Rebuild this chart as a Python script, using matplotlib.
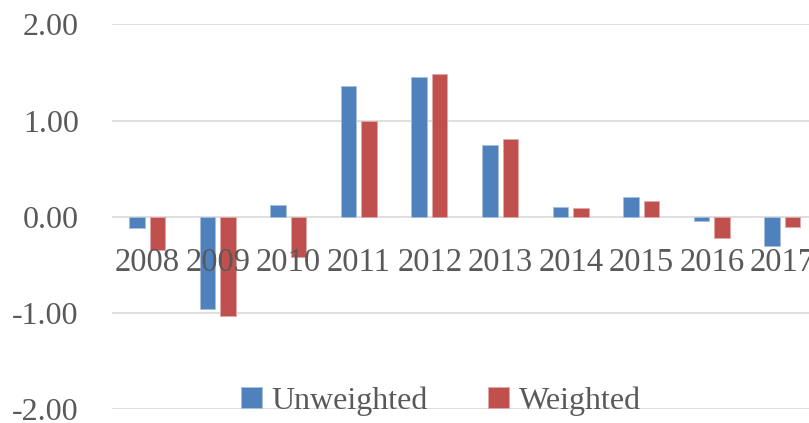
import numpy as np
import matplotlib
matplotlib.use("Agg")
import matplotlib.pyplot as plt

years = ["2008", "2009", "2010", "2011", "2012", "2013", "2014", "2015", "2016", "2017"]
unweighted = [-0.12, -0.96, 0.12, 1.36, 1.45, 0.75, 0.10, 0.21, -0.04, -0.30]
weighted = [-0.35, -1.03, -0.42, 1.00, 1.49, 0.81, 0.09, 0.16, -0.22, -0.11]

plt.rcParams['font.family'] = ['Liberation Serif', 'DejaVu Serif']
txt = '#595959'
grid = '#d9d9d9'

fig = plt.figure(figsize=(8.09, 4.23), dpi=100)
ax = fig.add_axes([112 / 809, 1 - 409 / 423, 706 / 809, 384.5 / 423])

x = np.arange(len(years))
w = 0.22
ax.bar(x - 0.148, unweighted, w, color='#4f81bd', edgecolor='#a7c0de', linewidth=0.6,
       label='Unweighted', zorder=3)
ax.bar(x + 0.142, weighted, w, color='#c0504d', edgecolor='#e0a8a6', linewidth=0.6,
       label='Weighted', zorder=3)

ax.set_xlim(-0.5, len(years) - 0.5)
ax.set_ylim(-2, 2)
ax.set_yticks([-2, -1, 0, 1, 2])
ax.set_yticklabels([f"{v:.2f}" for v in [-2, -1, 0, 1, 2]])
ax.yaxis.grid(True, color=grid, linewidth=1.2, zorder=0)
ax.set_axisbelow(True)

# category labels sit just under the zero line, on top of the bars
ax.set_xticks([])
for i, yr in enumerate(years):
    ax.text(i, -0.475, yr, ha='center', va='center', fontsize=23.5,
            color=txt, zorder=5, clip_on=False)

for s in ax.spines.values():
    s.set_visible(False)
ax.tick_params(axis='y', length=0, pad=24, labelsize=23, labelcolor=txt)

leg = ax.legend(loc='center', bbox_to_anchor=(441 / 809, 1 - 401 / 423),
                bbox_transform=fig.transFigure, ncol=2, frameon=False,
                fontsize=23, handlelength=0.65, handleheight=0.65,
                handletextpad=0.3, columnspacing=1.9, borderpad=0)
for t in leg.get_texts():
    t.set_color(txt)

fig.savefig('out.png', dpi=100)
